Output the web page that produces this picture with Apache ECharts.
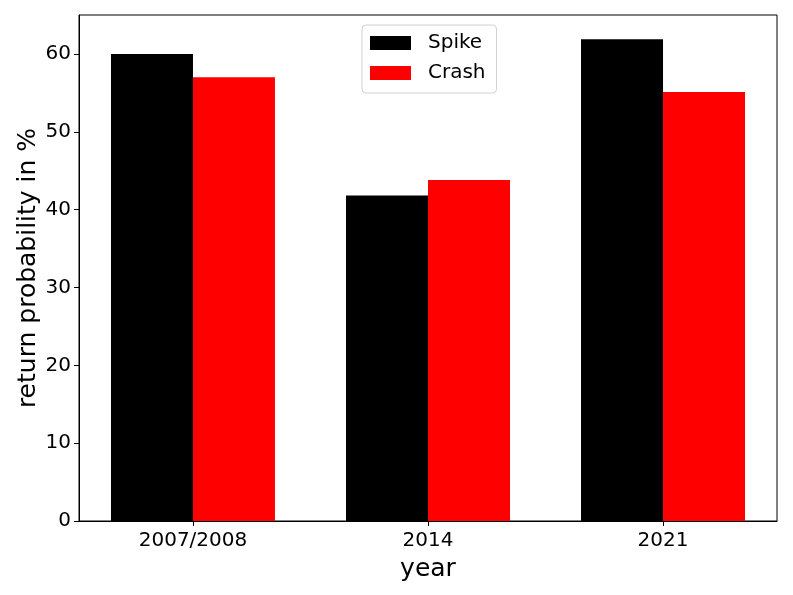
<!DOCTYPE html>
<html>
<head>
<meta charset="utf-8">
<script src="https://cdn.jsdelivr.net/npm/echarts@6/dist/echarts.min.js"></script>
<style>
html,body{margin:0;padding:0;background:#fff;}
#chart{width:793px;height:595px;}
</style>
</head>
<body>
<div id="chart"></div>
<script>
// 数据
var years = ['2007/2008', '2014', '2021'];
var spike = [60, 41.8, 61.9];
var crash = [57, 43.8, 55.1];
var yTicks = [0, 10, 20, 30, 40, 50, 60];

window.onload = function(){
    var chart = echarts.init(document.getElementById('chart'));
    var font = 'DejaVu Sans';

    // x 位置 0,1,2
    var idx = years.map(function(y, i){ return i; });

    var option = {
        animation: false,
        backgroundColor: '#fff',
        textStyle: { fontFamily: font },
        grid: {
            left: 79, right: 16, top: 15, bottom: 74,
            show: true, borderColor: '#000', borderWidth: 1
        },
        legend: {
            orient: 'vertical',
            left: 362, top: 25,
            padding: [8, 11, 10, 8],
            itemWidth: 41, itemHeight: 14, itemGap: 10,
            borderColor: '#d0d0d0', borderWidth: 1, borderRadius: 4,
            textStyle: { fontSize: 20, color: '#000', padding: [0, 0, 0, 12] },
            icon: 'rect',
            data: ['Spike', 'Crash']
        },
        xAxis: {
            type: 'value',
            min: -0.485, max: 2.485,
            name: 'year', nameLocation: 'middle', nameGap: 36,
            nameTextStyle: { fontSize: 25, color: '#000' },
            splitLine: { show: false },
            axisLine: { show: true, onZero: false, lineStyle: { color: '#000' } },
            axisTick: { show: true, length: 5, inside: false, customValues: idx, lineStyle: { color: '#000' } },
            axisLabel: {
                fontSize: 20, color: '#000', margin: 10,
                customValues: idx,
                formatter: function(v){ return years[Math.round(v)]; }
            }
        },
        yAxis: {
            type: 'value',
            min: 0, max: 65, interval: 10,
            name: 'return probability in %', nameLocation: 'middle', nameGap: 38,
            nameMoveOverlap: false,
            nameTextStyle: { fontSize: 25, color: '#000' },
            splitLine: { show: false },
            axisLine: { show: true, onZero: false, lineStyle: { color: '#000' } },
            axisTick: { show: true, length: 5, customValues: yTicks, lineStyle: { color: '#000' } },
            axisLabel: { fontSize: 20, color: '#000', margin: 8, customValues: yTicks }
        },
        series: [{
            name: 'Spike', type: 'bar',
            barWidth: 82, barGap: '0%',
            itemStyle: { color: '#000' },
            data: idx.map(function(i){ return [i, spike[i]]; })
        }, {
            name: 'Crash', type: 'bar',
            barWidth: 82, barGap: '0%',
            itemStyle: { color: '#ff0000' },
            data: idx.map(function(i){ return [i, crash[i]]; })
        }]
    };

    chart.setOption(option);
};
</script>
</body>
</html>
